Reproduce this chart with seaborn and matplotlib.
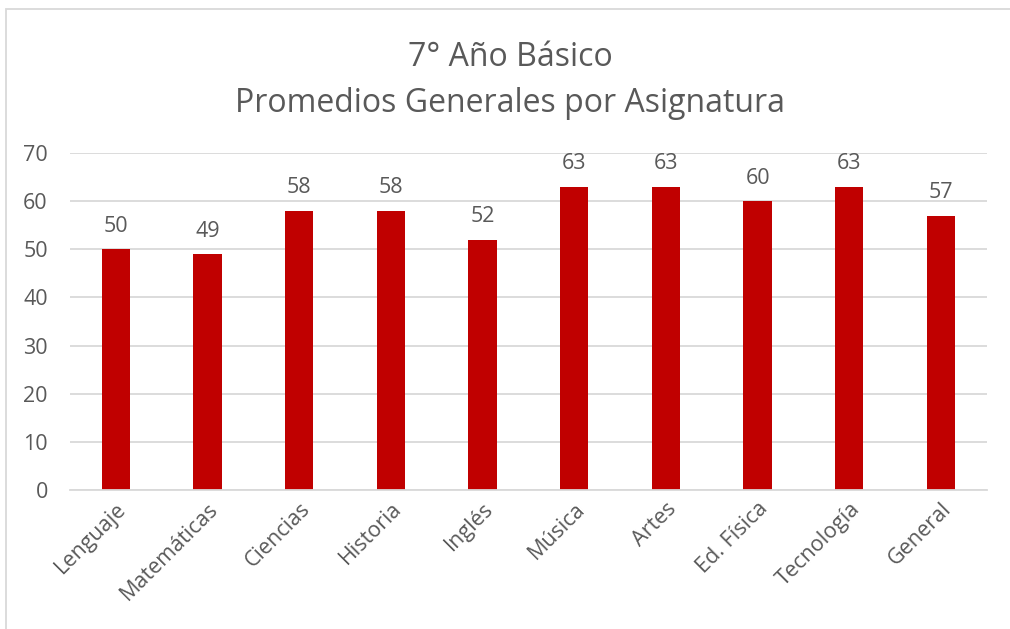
import matplotlib
matplotlib.use("Agg")
import matplotlib.pyplot as plt
import seaborn as sns
import pandas as pd
from matplotlib.patches import Rectangle

# Data
asignaturas = ["Lenguaje", "Matemáticas", "Ciencias", "Historia", "Inglés",
               "Música", "Artes", "Ed. Física", "Tecnología", "General"]
promedios = [50, 49, 58, 58, 52, 63, 63, 60, 63, 57]
y_ticks = [0, 10, 20, 30, 40, 50, 60, 70]

df = pd.DataFrame({"asignatura": asignaturas, "promedio": promedios})

sns.set_style("white")
plt.rcParams['font.family'] = ['Open Sans', 'DejaVu Sans']
gris = "#595959"

fig = plt.figure(figsize=(10.1, 6.29), dpi=100)
ax = fig.add_axes([0.0693, 0.221, 0.9077, 0.5358])

sns.barplot(data=df, x="asignatura", y="promedio", color="#C00000",
            width=0.31, saturation=1, linewidth=0, ax=ax)

ax.set_ylim(0, 70)
ax.set_xlim(-0.5, len(asignaturas) - 0.5)
ax.set_yticks(y_ticks)
ax.grid(axis="y", color="#d9d9d9", linewidth=1.3)
ax.set_axisbelow(True)
for s in ["top", "right", "left"]:
    ax.spines[s].set_visible(False)
ax.spines["bottom"].set_color("#d9d9d9")
ax.spines["bottom"].set_linewidth(1.3)
ax.tick_params(axis="both", length=0, labelsize=15.5, labelcolor=gris)
ax.tick_params(axis="y", pad=16)
ax.tick_params(axis="x", pad=6)
ax.set_xticks(range(len(asignaturas)))
ax.set_xticklabels(asignaturas, rotation=45, ha="right", rotation_mode="anchor")
ax.set_xlabel("")
ax.set_ylabel("")

for cont in ax.containers:
    ax.bar_label(cont, labels=[str(v) for v in promedios], padding=9,
                 fontsize=15.5, color=gris)

fig.text(0.505, 0.909, "7° Año Básico", ha="center", va="center",
         fontsize=23, color=gris)
fig.text(0.505, 0.836, "Promedios Generales por Asignatura", ha="center",
         va="center", fontsize=23, color=gris)

# chart border
fig.patches.append(Rectangle((0.006, -0.1), 1.1, 1.086, transform=fig.transFigure,
                             fill=False, edgecolor="#d9d9d9", linewidth=1.3))

fig.savefig("out.png", dpi=100)
